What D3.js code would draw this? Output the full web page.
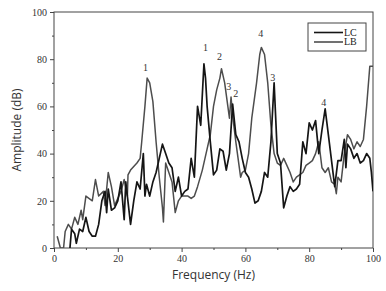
<!DOCTYPE html>
<html>
<head>
<meta charset="utf-8">
<script src="https://cdn.jsdelivr.net/npm/d3@7"></script>
<style>
  body { margin: 0; background: #fff; }
  .tick text { font-family: "Liberation Serif", serif; font-size: 10px; fill: #333; }
  .axis path, .axis line { stroke: #444; }
</style>
</head>
<body>
<div id="container"></div>
<script>
'use strict';

const width = 386,
      height = 291,
      margin = {top: 12, bottom: 43, right: 13, left: 54};

// LC (black) spectrum: frequency (Hz), amplitude (dB)
const lcFreq = [5, 5.5, 6.5, 7, 8, 9, 10, 11, 12, 13, 14, 15, 16, 16.5, 17, 18, 19, 20, 21, 22, 22.5, 24, 25, 26, 27, 28, 28.5, 29, 30, 31, 32, 33, 34, 35, 36, 37, 38, 39, 40, 41, 42, 43, 44, 45, 46, 47, 47.5, 48, 49, 50, 51, 52, 53, 54, 55, 56, 57, 58, 59, 60, 61, 62, 63, 64, 65, 66, 67, 68, 69, 70, 71, 72, 73, 74, 75, 76, 77, 78, 79, 80, 81, 82, 83, 84, 85, 86, 87, 88, 89, 90, 91, 91.5, 92, 93, 94, 95, 96, 97, 98, 99, 99.5, 100];
const lcAmp  = [0, 8, 6, 2, 8, 7, 13, 7, 5, 5, 10, 20, 24, 15, 25, 16, 17, 20, 28, 12, 28, 10, 20, 28, 25, 40, 22, 27, 22, 28, 32, 38, 44, 40, 36, 34, 24, 30, 22, 24, 25, 38, 30, 60, 52, 78, 72, 60, 45, 31, 33, 42, 41, 33, 40, 61, 48, 45, 38, 32, 30, 25, 19, 20, 24, 32, 30, 45, 70, 40, 36, 17, 22, 26, 24, 25, 27, 45, 40, 53, 50, 54, 40, 50, 59, 48, 37, 26, 37, 37, 46, 34, 44, 42, 38, 40, 36, 37, 40, 38, 32, 24];

// LB (grey) spectrum
const lbFreq = [1, 2, 3, 3.5, 4.5, 5.5, 6.5, 7.5, 8.5, 9, 10, 12, 13, 14, 15.5, 16, 17, 18, 19, 21, 22, 23, 23.2, 24, 26, 27, 27.5, 28.5, 29.2, 30, 31, 32, 33, 34, 34.3, 35, 36, 37, 38, 39, 40, 42, 43, 44, 45, 46.5, 48, 49, 50, 51, 52, 52.5, 53.5, 54.5, 55, 55.5, 56, 57, 58, 58.5, 59, 60, 61, 62, 63.5, 64.5, 65, 66, 67, 68, 69, 70, 71, 72, 73, 74, 75, 76, 78, 79, 80, 81, 82, 83, 84, 85, 86, 87, 88, 88.5, 89, 90, 91, 92, 93, 94, 95, 96, 97, 98, 99, 100];
const lbAmp  = [5, 0, 0, 7, 10, 8, 13, 10, 16, 12, 22, 20, 29, 22, 24, 18, 32, 26, 18, 24, 29, 22, 31, 33, 36, 38, 45, 60, 72, 70, 62, 45, 30, 17, 11, 36, 32, 28, 15, 20, 22, 22, 21, 22, 26, 33, 42, 48, 60, 67, 72, 76, 70, 60, 55, 64, 56, 45, 35, 30, 32, 33, 40, 55, 70, 82, 85, 82, 70, 52, 40, 36, 35, 38, 35, 32, 28, 30, 32, 35, 36, 37, 40, 45, 34, 32, 34, 28, 27, 23, 30, 28, 40, 48, 46, 42, 45, 43, 46, 60, 77, 77];

// mode labels above peaks
const peakText = ["1", "1", "2", "3", "2", "4", "3", "4"];
const peakFreq = [28.7, 47.5, 51.9, 54.8, 57, 64.8, 68.6, 84.6];
const peakAmp  = [76.3, 84.8, 81, 68.6, 65.3, 90.9, 72.2, 61.5];

const seriesNames = ["LC", "LB"];
const seriesColors = ["#151515", "#4d4d4d"];

const xTicks = [0, 20, 40, 60, 80, 100];
const yTicks = [0, 20, 40, 60, 80, 100];

const svg = d3.select("#container")
  .append("svg")
  .attr("width", width)
  .attr("height", height);

const xScale = d3.scaleLinear()
  .domain([0, 100])
  .range([margin.left, width - margin.right]);

const yScale = d3.scaleLinear()
  .domain([0, 100])
  .range([height - margin.bottom, margin.top]);

svg.append("defs").append("clipPath")
  .attr("id", "plot-clip")
  .append("rect")
  .attr("x", margin.left)
  .attr("y", margin.top)
  .attr("width", width - margin.left - margin.right)
  .attr("height", height - margin.top - margin.bottom);

// frame
svg.append("rect")
  .attr("x", margin.left)
  .attr("y", margin.top)
  .attr("width", width - margin.left - margin.right)
  .attr("height", height - margin.top - margin.bottom)
  .attr("fill", "none")
  .attr("stroke", "#444");

// minor ticks
svg.append("g")
  .attr("class", "axis")
  .attr("transform", `translate(0, ${height - margin.bottom})`)
  .call(d3.axisBottom(xScale).tickValues(d3.range(10, 100, 20)).tickSize(2).tickFormat(""))
  .call(g => g.select(".domain").remove());

svg.append("g")
  .attr("class", "axis")
  .attr("transform", `translate(${margin.left}, 0)`)
  .call(d3.axisLeft(yScale).tickValues(d3.range(10, 100, 20)).tickSize(2).tickFormat(""))
  .call(g => g.select(".domain").remove());

// major ticks
svg.append("g")
  .attr("class", "axis")
  .attr("transform", `translate(0, ${height - margin.bottom})`)
  .call(d3.axisBottom(xScale).tickValues(xTicks).tickSize(4).tickPadding(3))
  .call(g => g.select(".domain").remove());

svg.append("g")
  .attr("class", "axis")
  .attr("transform", `translate(${margin.left}, 0)`)
  .call(d3.axisLeft(yScale).tickValues(yTicks).tickSize(4).tickPadding(3))
  .call(g => g.select(".domain").remove());

// axis titles
svg.append("text")
  .attr("x", (margin.left + width - margin.right) / 2)
  .attr("y", 279)
  .attr("text-anchor", "middle")
  .attr("font-family", "Open Sans, sans-serif")
  .attr("font-size", 12)
  .attr("fill", "#333")
  .text("Frequency (Hz)");

svg.append("text")
  .attr("transform", `translate(21, ${(margin.top + height - margin.bottom) / 2}) rotate(-90)`)
  .attr("text-anchor", "middle")
  .attr("font-family", "Open Sans, sans-serif")
  .attr("font-size", 12)
  .attr("fill", "#333")
  .text("Amplitude (dB)");

const line = d3.line()
  .x(d => xScale(d[0]))
  .y(d => yScale(d[1]));

const series = [
  {name: "LB", pts: d3.zip(lbFreq, lbAmp), color: seriesColors[1], w: 1.5},
  {name: "LC", pts: d3.zip(lcFreq, lcAmp), color: seriesColors[0], w: 1.7}
];

svg.append("g")
  .attr("clip-path", "url(#plot-clip)")
  .selectAll("path")
  .data(series)
  .join("path")
  .attr("d", d => line(d.pts))
  .attr("fill", "none")
  .attr("stroke", d => d.color)
  .attr("stroke-width", d => d.w)
  .attr("stroke-linejoin", "round");

// peak numbers
svg.selectAll(".peak")
  .data(d3.zip(peakText, peakFreq, peakAmp))
  .join("text")
  .attr("class", "peak")
  .attr("x", d => xScale(d[1]))
  .attr("y", d => yScale(d[2]))
  .attr("dy", "0.35em")
  .attr("text-anchor", "middle")
  .attr("font-family", "Liberation Serif, serif")
  .attr("font-size", 10)
  .attr("fill", "#333")
  .text(d => d[0]);

// legend
const legend = svg.append("g").attr("transform", "translate(308, 23)");
legend.append("rect")
  .attr("width", 58)
  .attr("height", 28)
  .attr("fill", "#fff")
  .attr("stroke", "#444");

legend.selectAll(".lg")
  .data(seriesNames)
  .join("g")
  .attr("class", "lg")
  .attr("transform", (d, i) => `translate(0, ${9.5 + i * 9.5})`)
  .each(function(d, i) {
    const g = d3.select(this);
    g.append("line")
      .attr("x1", 6).attr("x2", 35)
      .attr("stroke", seriesColors[i])
      .attr("stroke-width", 1.6);
    g.append("text")
      .attr("x", 36)
      .attr("dy", "0.32em")
      .attr("font-family", "Liberation Serif, serif")
      .attr("font-size", 10)
      .attr("fill", "#222")
      .text(d);
  });
</script>
</body>
</html>
